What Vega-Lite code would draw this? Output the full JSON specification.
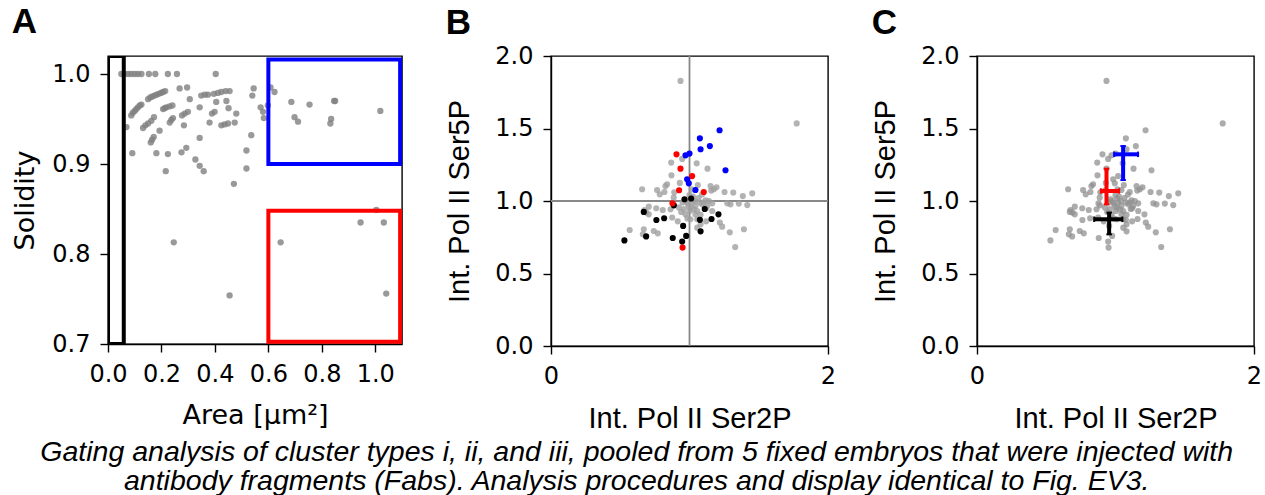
{
  "$schema": "https://vega.github.io/schema/vega-lite/v6.json",
  "padding": {"left": 11, "top": 4, "right": 5, "bottom": 2},
  "spacing": 149,
  "bounds": "flush",
  "config": {
    "view": {"stroke": "black", "strokeWidth": 1.4},
    "axis": {
      "grid": false, "labelOverlap": false, "labelFlush": false,
      "domainColor": "black", "domainWidth": 1.4,
      "tickColor": "black", "tickWidth": 1.4, "tickSize": 8,
      "labelColor": "black", "labelFont": "DejaVu Sans", "labelFontSize": 24, "labelPadding": 10,
      "titleColor": "black", "titleFont": "DejaVu Sans", "titleFontSize": 27, "titleFontWeight": "normal", "titlePadding": 12
    },
    "axisX": {"titlePadding": 16},
    "title": {"color": "black"}
  },
  "title": {
    "text": ["Gating analysis of cluster types i, ii, and iii, pooled from 5 fixed embryos that were injected with", "antibody fragments (Fabs). Analysis procedures and display identical to Fig. EV3."],
    "orient": "bottom", "anchor": "middle", "font": "Liberation Sans", "fontStyle": "italic", "fontWeight": "normal",
    "fontSize": 28.5, "lineHeight": 29, "offset": 4
  },
  "datasets": {
    "areaSol": [
      {"area": 0.050, "solidity": 1.0}, {"area": 0.062, "solidity": 1.0}, {"area": 0.075, "solidity": 1.0}, {"area": 0.087, "solidity": 1.0},
      {"area": 0.100, "solidity": 1.0}, {"area": 0.112, "solidity": 1.0}, {"area": 0.125, "solidity": 1.0}, {"area": 0.153, "solidity": 1.0},
      {"area": 0.177, "solidity": 1.0}, {"area": 0.224, "solidity": 1.0}, {"area": 0.258, "solidity": 1.0}, {"area": 0.403, "solidity": 1.0},
      {"area": 0.268, "solidity": 0.984}, {"area": 0.296, "solidity": 0.985}, {"area": 0.545, "solidity": 0.984}, {"area": 0.608, "solidity": 0.985},
      {"area": 0.623, "solidity": 0.980},
      {"area": 0.150, "solidity": 0.972}, {"area": 0.158, "solidity": 0.974}, {"area": 0.166, "solidity": 0.975}, {"area": 0.174, "solidity": 0.976},
      {"area": 0.182, "solidity": 0.977}, {"area": 0.190, "solidity": 0.978}, {"area": 0.198, "solidity": 0.979}, {"area": 0.206, "solidity": 0.980},
      {"area": 0.214, "solidity": 0.981}, {"area": 0.306, "solidity": 0.972},
      {"area": 0.349, "solidity": 0.976}, {"area": 0.362, "solidity": 0.977}, {"area": 0.374, "solidity": 0.977},
      {"area": 0.396, "solidity": 0.978}, {"area": 0.411, "solidity": 0.979}, {"area": 0.424, "solidity": 0.980}, {"area": 0.440, "solidity": 0.981},
      {"area": 0.455, "solidity": 0.981}, {"area": 0.405, "solidity": 0.969}, {"area": 0.443, "solidity": 0.970}, {"area": 0.540, "solidity": 0.976},
      {"area": 0.087, "solidity": 0.954}, {"area": 0.093, "solidity": 0.957}, {"area": 0.100, "solidity": 0.959}, {"area": 0.106, "solidity": 0.961},
      {"area": 0.112, "solidity": 0.963}, {"area": 0.119, "solidity": 0.965}, {"area": 0.125, "solidity": 0.966},
      {"area": 0.206, "solidity": 0.961}, {"area": 0.212, "solidity": 0.962}, {"area": 0.218, "solidity": 0.963}, {"area": 0.230, "solidity": 0.964},
      {"area": 0.241, "solidity": 0.965},
      {"area": 0.287, "solidity": 0.956}, {"area": 0.299, "solidity": 0.958}, {"area": 0.343, "solidity": 0.963},
      {"area": 0.389, "solidity": 0.956}, {"area": 0.399, "solidity": 0.958}, {"area": 0.451, "solidity": 0.962}, {"area": 0.480, "solidity": 0.956},
      {"area": 0.571, "solidity": 0.963}, {"area": 0.580, "solidity": 0.958}, {"area": 0.583, "solidity": 0.951}, {"area": 0.598, "solidity": 0.965},
      {"area": 0.686, "solidity": 0.969}, {"area": 0.754, "solidity": 0.966}, {"area": 0.846, "solidity": 0.970}, {"area": 0.850, "solidity": 0.970},
      {"area": 0.698, "solidity": 0.952}, {"area": 0.711, "solidity": 0.947}, {"area": 0.835, "solidity": 0.950}, {"area": 0.832, "solidity": 0.945},
      {"area": 1.019, "solidity": 0.959},
      {"area": 0.069, "solidity": 0.941}, {"area": 0.131, "solidity": 0.940}, {"area": 0.140, "solidity": 0.943}, {"area": 0.150, "solidity": 0.945},
      {"area": 0.162, "solidity": 0.948}, {"area": 0.172, "solidity": 0.952},
      {"area": 0.193, "solidity": 0.937}, {"area": 0.231, "solidity": 0.946}, {"area": 0.237, "solidity": 0.949}, {"area": 0.243, "solidity": 0.951},
      {"area": 0.277, "solidity": 0.954}, {"area": 0.284, "solidity": 0.943},
      {"area": 0.380, "solidity": 0.946}, {"area": 0.424, "solidity": 0.943}, {"area": 0.436, "solidity": 0.944}, {"area": 0.449, "solidity": 0.945},
      {"area": 0.474, "solidity": 0.946},
      {"area": 0.160, "solidity": 0.924}, {"area": 0.165, "solidity": 0.927}, {"area": 0.171, "solidity": 0.930},
      {"area": 0.343, "solidity": 0.929}, {"area": 0.536, "solidity": 0.932},
      {"area": 0.091, "solidity": 0.912}, {"area": 0.181, "solidity": 0.912}, {"area": 0.224, "solidity": 0.911}, {"area": 0.275, "solidity": 0.913},
      {"area": 0.293, "solidity": 0.918},
      {"area": 0.327, "solidity": 0.905}, {"area": 0.343, "solidity": 0.898}, {"area": 0.358, "solidity": 0.892},
      {"area": 0.216, "solidity": 0.892}, {"area": 0.518, "solidity": 0.915}, {"area": 0.518, "solidity": 0.895}, {"area": 0.471, "solidity": 0.878},
      {"area": 0.246, "solidity": 0.813}, {"area": 0.455, "solidity": 0.754}, {"area": 0.646, "solidity": 0.813}, {"area": 0.945, "solidity": 0.835},
      {"area": 1.032, "solidity": 0.835}, {"area": 1.004, "solidity": 0.849}, {"area": 1.041, "solidity": 0.756}
    ],
    "gates": [
      {"gate": "i", "x0": 0.0, "x1": 0.059, "y0": 0.7, "y1": 1.02},
      {"gate": "ii", "x0": 0.6, "x1": 1.093, "y0": 0.7025, "y1": 0.848},
      {"gate": "iii", "x0": 0.6, "x1": 1.093, "y0": 0.9, "y1": 1.016}
    ],
    "pol": [
      {"ser2p": 0.935, "ser5p": 1.828, "type": "none"}, {"ser2p": 1.774, "ser5p": 1.535, "type": "none"},
      {"ser2p": 0.868, "ser5p": 1.265, "type": "none"}, {"ser2p": 0.947, "ser5p": 1.290, "type": "none"},
      {"ser2p": 1.052, "ser5p": 1.260, "type": "none"}, {"ser2p": 1.130, "ser5p": 1.223, "type": "none"},
      {"ser2p": 0.870, "ser5p": 1.177, "type": "none"}, {"ser2p": 0.930, "ser5p": 1.125, "type": "none"},
      {"ser2p": 0.658, "ser5p": 1.081, "type": "none"}, {"ser2p": 0.766, "ser5p": 1.076, "type": "none"},
      {"ser2p": 0.785, "ser5p": 1.046, "type": "none"}, {"ser2p": 0.826, "ser5p": 1.103, "type": "none"},
      {"ser2p": 0.838, "ser5p": 1.115, "type": "none"}, {"ser2p": 0.819, "ser5p": 1.062, "type": "none"},
      {"ser2p": 0.886, "ser5p": 1.023, "type": "none"}, {"ser2p": 1.152, "ser5p": 1.103, "type": "none"},
      {"ser2p": 1.195, "ser5p": 1.095, "type": "none"}, {"ser2p": 1.157, "ser5p": 1.072, "type": "none"},
      {"ser2p": 1.176, "ser5p": 1.081, "type": "none"}, {"ser2p": 1.253, "ser5p": 1.062, "type": "none"},
      {"ser2p": 1.316, "ser5p": 1.058, "type": "none"}, {"ser2p": 1.385, "ser5p": 1.034, "type": "none"},
      {"ser2p": 1.453, "ser5p": 1.053, "type": "none"}, {"ser2p": 1.273, "ser5p": 0.984, "type": "none"},
      {"ser2p": 1.296, "ser5p": 0.977, "type": "none"}, {"ser2p": 1.356, "ser5p": 0.982, "type": "none"},
      {"ser2p": 1.417, "ser5p": 0.972, "type": "none"}, {"ser2p": 1.116, "ser5p": 1.005, "type": "none"},
      {"ser2p": 1.140, "ser5p": 1.000, "type": "none"}, {"ser2p": 1.164, "ser5p": 0.984, "type": "none"},
      {"ser2p": 1.075, "ser5p": 0.989, "type": "none"}, {"ser2p": 1.092, "ser5p": 0.977, "type": "none"},
      {"ser2p": 1.038, "ser5p": 1.000, "type": "none"}, {"ser2p": 1.019, "ser5p": 0.989, "type": "none"},
      {"ser2p": 0.995, "ser5p": 0.966, "type": "none"}, {"ser2p": 1.043, "ser5p": 0.966, "type": "none"},
      {"ser2p": 1.031, "ser5p": 0.943, "type": "none"}, {"ser2p": 1.056, "ser5p": 0.931, "type": "none"},
      {"ser2p": 1.002, "ser5p": 0.931, "type": "none"}, {"ser2p": 0.971, "ser5p": 0.908, "type": "none"},
      {"ser2p": 1.043, "ser5p": 0.908, "type": "none"}, {"ser2p": 1.164, "ser5p": 0.931, "type": "none"},
      {"ser2p": 1.056, "ser5p": 0.874, "type": "none"}, {"ser2p": 1.007, "ser5p": 0.874, "type": "none"},
      {"ser2p": 1.080, "ser5p": 0.839, "type": "none"}, {"ser2p": 1.056, "ser5p": 0.816, "type": "none"},
      {"ser2p": 1.219, "ser5p": 0.851, "type": "none"}, {"ser2p": 1.236, "ser5p": 0.823, "type": "none"},
      {"ser2p": 1.291, "ser5p": 0.784, "type": "none"}, {"ser2p": 1.393, "ser5p": 0.805, "type": "none"},
      {"ser2p": 1.330, "ser5p": 0.683, "type": "none"}, {"ser2p": 0.706, "ser5p": 0.961, "type": "none"},
      {"ser2p": 0.689, "ser5p": 0.920, "type": "none"}, {"ser2p": 0.675, "ser5p": 0.938, "type": "none"},
      {"ser2p": 0.807, "ser5p": 0.938, "type": "none"}, {"ser2p": 0.875, "ser5p": 0.886, "type": "none"},
      {"ser2p": 0.940, "ser5p": 0.924, "type": "none"}, {"ser2p": 0.923, "ser5p": 0.956, "type": "none"},
      {"ser2p": 0.568, "ser5p": 0.800, "type": "none"}, {"ser2p": 0.670, "ser5p": 0.805, "type": "none"},
      {"ser2p": 0.663, "ser5p": 0.770, "type": "none"}, {"ser2p": 0.742, "ser5p": 0.793, "type": "none"},
      {"ser2p": 0.771, "ser5p": 0.777, "type": "none"}, {"ser2p": 0.863, "ser5p": 0.943, "type": "none"},
      {"ser2p": 1.128, "ser5p": 0.966, "type": "none"}, {"ser2p": 1.103, "ser5p": 0.989, "type": "none"},
      {"ser2p": 0.706, "ser5p": 0.908, "type": "none"}, {"ser2p": 0.975, "ser5p": 1.000, "type": "none"},
      {"ser2p": 0.985, "ser5p": 0.985, "type": "none"}, {"ser2p": 1.010, "ser5p": 0.955, "type": "none"},
      {"ser2p": 0.960, "ser5p": 0.945, "type": "none"}, {"ser2p": 1.025, "ser5p": 1.030, "type": "none"},
      {"ser2p": 1.065, "ser5p": 1.020, "type": "none"}, {"ser2p": 1.090, "ser5p": 1.045, "type": "none"},
      {"ser2p": 0.950, "ser5p": 0.990, "type": "none"}, {"ser2p": 1.000, "ser5p": 1.040, "type": "none"},
      {"ser2p": 1.120, "ser5p": 0.950, "type": "none"}, {"ser2p": 1.080, "ser5p": 0.905, "type": "none"},
      {"ser2p": 0.985, "ser5p": 0.880, "type": "none"}, {"ser2p": 1.120, "ser5p": 0.860, "type": "none"},
      {"ser2p": 0.915, "ser5p": 0.860, "type": "none"}, {"ser2p": 1.015, "ser5p": 1.080, "type": "none"},
      {"ser2p": 1.060, "ser5p": 1.110, "type": "none"}, {"ser2p": 0.890, "ser5p": 1.060, "type": "none"},
      {"ser2p": 0.760, "ser5p": 0.950, "type": "none"},
      {"ser2p": 0.530, "ser5p": 0.728, "type": "i"}, {"ser2p": 0.670, "ser5p": 0.925, "type": "i"},
      {"ser2p": 0.687, "ser5p": 0.756, "type": "i"}, {"ser2p": 0.761, "ser5p": 0.869, "type": "i"},
      {"ser2p": 0.817, "ser5p": 0.881, "type": "i"}, {"ser2p": 0.879, "ser5p": 0.745, "type": "i"},
      {"ser2p": 0.887, "ser5p": 0.970, "type": "i"}, {"ser2p": 0.947, "ser5p": 0.720, "type": "i"},
      {"ser2p": 0.954, "ser5p": 0.828, "type": "i"}, {"ser2p": 0.976, "ser5p": 0.759, "type": "i"},
      {"ser2p": 0.964, "ser5p": 1.012, "type": "i"}, {"ser2p": 1.012, "ser5p": 1.017, "type": "i"},
      {"ser2p": 1.075, "ser5p": 0.870, "type": "i"}, {"ser2p": 1.080, "ser5p": 0.791, "type": "i"},
      {"ser2p": 1.110, "ser5p": 0.945, "type": "i"}, {"ser2p": 1.159, "ser5p": 0.876, "type": "i"},
      {"ser2p": 1.209, "ser5p": 0.908, "type": "i"},
      {"ser2p": 0.906, "ser5p": 1.322, "type": "ii"}, {"ser2p": 0.935, "ser5p": 1.223, "type": "ii"},
      {"ser2p": 1.019, "ser5p": 1.172, "type": "ii"}, {"ser2p": 0.925, "ser5p": 1.074, "type": "ii"},
      {"ser2p": 1.103, "ser5p": 1.062, "type": "ii"}, {"ser2p": 0.877, "ser5p": 0.984, "type": "ii"},
      {"ser2p": 0.950, "ser5p": 0.679, "type": "ii"},
      {"ser2p": 0.971, "ser5p": 1.315, "type": "iii"}, {"ser2p": 1.000, "ser5p": 1.327, "type": "iii"},
      {"ser2p": 1.080, "ser5p": 1.357, "type": "iii"}, {"ser2p": 1.075, "ser5p": 1.432, "type": "iii"},
      {"ser2p": 1.147, "ser5p": 1.379, "type": "iii"}, {"ser2p": 1.217, "ser5p": 1.488, "type": "iii"},
      {"ser2p": 1.260, "ser5p": 1.212, "type": "iii"}, {"ser2p": 0.983, "ser5p": 1.150, "type": "iii"},
      {"ser2p": 0.995, "ser5p": 1.122, "type": "iii"}, {"ser2p": 1.043, "ser5p": 1.076, "type": "iii"}
    ],
    "cross": [
      {"group": "i", "cx": 0.954, "cy": 0.874, "xlo": 0.846, "xhi": 1.050, "ylo": 0.770, "yhi": 0.920},
      {"group": "ii", "cx": 0.935, "cy": 1.069, "xlo": 0.894, "xhi": 1.026, "ylo": 0.977, "yhi": 1.223},
      {"group": "iii", "cx": 1.055, "cy": 1.322, "xlo": 0.990, "xhi": 1.163, "ylo": 1.145, "yhi": 1.379}
    ],
    "ref": [{"v": 1}]
  },
  "hconcat": [
    {
      "width": 294, "height": 288,
      "title": {"text": "A", "anchor": "start", "frame": "bounds", "font": "Liberation Sans", "fontSize": 35, "fontWeight": "bold", "offset": 16},
      "layer": [
        {
          "data": {"name": "areaSol"},
          "mark": {"type": "circle", "color": "#808080", "opacity": 0.8, "size": 40},
          "encoding": {
            "x": {"field": "area", "type": "quantitative", "scale": {"domain": [0, 1.1], "nice": false, "zero": false},
                  "axis": {"values": [0, 0.2, 0.4, 0.6, 0.8, 1.0], "format": ".1f", "title": "Area [μm²]"}},
            "y": {"field": "solidity", "type": "quantitative", "scale": {"domain": [0.7, 1.02], "nice": false, "zero": false},
                  "axis": {"values": [0.7, 0.8, 0.9, 1.0], "format": ".1f", "title": "Solidity"}}
          }
        },
        {
          "data": {"name": "gates"},
          "mark": {"type": "rect", "fillOpacity": 0, "strokeWidth": 4, "clip": true},
          "encoding": {
            "x": {"field": "x0", "type": "quantitative"},
            "x2": {"field": "x1"},
            "y": {"field": "y0", "type": "quantitative"},
            "y2": {"field": "y1"},
            "stroke": {"field": "gate", "type": "nominal", "scale": {"domain": ["i", "ii", "iii"], "range": ["black", "#ff0000", "#0000ff"]}, "legend": null}
          }
        }
      ]
    },
    {
      "width": 277, "height": 290,
      "title": {"text": "B", "anchor": "start", "frame": "bounds", "font": "Liberation Sans", "fontSize": 35, "fontWeight": "bold", "offset": 3},
      "layer": [
        {
          "data": {"name": "ref"},
          "mark": {"type": "rule", "color": "#888888", "strokeWidth": 1.8},
          "encoding": {"x": {"field": "v", "type": "quantitative", "scale": {"domain": [0, 2], "nice": false}}}
        },
        {
          "data": {"name": "ref"},
          "mark": {"type": "rule", "color": "#888888", "strokeWidth": 1.8},
          "encoding": {"y": {"field": "v", "type": "quantitative", "scale": {"domain": [0, 2], "nice": false}}}
        },
        {
          "data": {"name": "pol"},
          "transform": [{"filter": "datum.type === 'none'"}],
          "mark": {"type": "circle", "color": "#a0a0a0", "opacity": 0.8, "size": 38},
          "encoding": {
            "x": {"field": "ser2p", "type": "quantitative", "scale": {"domain": [0, 2], "nice": false},
                  "axis": {"values": [0, 1, 2], "format": "d", "title": "Int. Pol II Ser2P", "titleFont": "Liberation Sans", "titleFontSize": 29}},
            "y": {"field": "ser5p", "type": "quantitative", "scale": {"domain": [0, 2], "nice": false},
                  "axis": {"values": [0, 0.5, 1, 1.5, 2], "format": ".1f", "title": "Int. Pol II Ser5P", "titleFont": "Liberation Sans", "titleFontSize": 29, "titlePadding": 20}}
          }
        },
        {
          "data": {"name": "pol"},
          "transform": [{"filter": "datum.type !== 'none'"}],
          "mark": {"type": "circle", "opacity": 1, "size": 38},
          "encoding": {
            "x": {"field": "ser2p", "type": "quantitative"},
            "y": {"field": "ser5p", "type": "quantitative"},
            "color": {"field": "type", "type": "nominal", "scale": {"domain": ["i", "ii", "iii"], "range": ["black", "#ff0000", "#0000ff"]}, "legend": null}
          }
        }
      ]
    },
    {
      "width": 277, "height": 290,
      "title": {"text": "C", "anchor": "start", "frame": "bounds", "font": "Liberation Sans", "fontSize": 35, "fontWeight": "bold", "offset": 3},
      "layer": [
        {
          "data": {"name": "pol"},
          "mark": {"type": "circle", "color": "#909090", "opacity": 0.75, "size": 38},
          "encoding": {
            "x": {"field": "ser2p", "type": "quantitative", "scale": {"domain": [0, 2], "nice": false},
                  "axis": {"values": [0, 1, 2], "format": "d", "title": "Int. Pol II Ser2P", "titleFont": "Liberation Sans", "titleFontSize": 29}},
            "y": {"field": "ser5p", "type": "quantitative", "scale": {"domain": [0, 2], "nice": false},
                  "axis": {"values": [0, 0.5, 1, 1.5, 2], "format": ".1f", "title": "Int. Pol II Ser5P", "titleFont": "Liberation Sans", "titleFontSize": 29, "titlePadding": 20}}
          }
        },
        {
          "data": {"name": "cross"},
          "mark": {"type": "rule", "strokeWidth": 4},
          "encoding": {
            "x": {"field": "xlo", "type": "quantitative"},
            "x2": {"field": "xhi"},
            "y": {"field": "cy", "type": "quantitative"},
            "color": {"field": "group", "type": "nominal", "scale": {"domain": ["i", "ii", "iii"], "range": ["black", "#ff0000", "#0000ff"]}, "legend": null}
          }
        },
        {
          "data": {"name": "cross"},
          "mark": {"type": "rule", "strokeWidth": 4},
          "encoding": {
            "x": {"field": "cx", "type": "quantitative"},
            "y": {"field": "ylo", "type": "quantitative"},
            "y2": {"field": "yhi"},
            "color": {"field": "group", "type": "nominal", "legend": null}
          }
        },
        {
          "data": {"name": "cross"},
          "mark": {"type": "tick", "orient": "vertical", "size": 5.5, "thickness": 2, "opacity": 1},
          "encoding": {
            "x": {"field": "xlo", "type": "quantitative"},
            "y": {"field": "cy", "type": "quantitative"},
            "color": {"field": "group", "type": "nominal", "legend": null}
          }
        },
        {
          "data": {"name": "cross"},
          "mark": {"type": "tick", "orient": "vertical", "size": 5.5, "thickness": 2, "opacity": 1},
          "encoding": {
            "x": {"field": "xhi", "type": "quantitative"},
            "y": {"field": "cy", "type": "quantitative"},
            "color": {"field": "group", "type": "nominal", "legend": null}
          }
        },
        {
          "data": {"name": "cross"},
          "mark": {"type": "tick", "orient": "horizontal", "size": 5.5, "thickness": 2, "opacity": 1},
          "encoding": {
            "x": {"field": "cx", "type": "quantitative"},
            "y": {"field": "ylo", "type": "quantitative"},
            "color": {"field": "group", "type": "nominal", "legend": null}
          }
        },
        {
          "data": {"name": "cross"},
          "mark": {"type": "tick", "orient": "horizontal", "size": 5.5, "thickness": 2, "opacity": 1},
          "encoding": {
            "x": {"field": "cx", "type": "quantitative"},
            "y": {"field": "yhi", "type": "quantitative"},
            "color": {"field": "group", "type": "nominal", "legend": null}
          }
        }
      ]
    }
  ]
}
